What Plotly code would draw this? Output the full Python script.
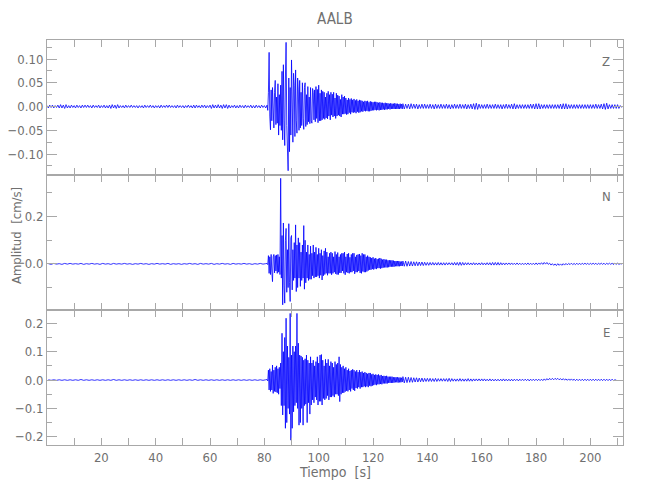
import numpy as np
import plotly.graph_objects as go
from plotly.subplots import make_subplots

# ---------------- data (amplitudes in 1e-3 cm/s) ----------------
station = "AALB"
components = ["Z", "N", "E"]
amp_unit = 1e-3

# each trace: pre-event noise, strong-motion part (fine sampling), coda
z_quiet_t0, z_quiet_dt = 0.0, 0.5
ne_quiet_t0, ne_quiet_dt = 0.5, 1.0
onset_t0, onset_dt = 81.0, 0.25
coda_t0, coda_dt = 131.0, 0.5

z_quiet = [2, -3, 3, -2, 3, -3, 2, -2, 3, -3,
           4, -3, 3, -4, 4, -3, 2, -3, 3, -2,
           2, -3, 3, -2, 2, -3, 3, -2, 3, -2,
           3, -2, 2, -3, 3, -2, 2, -2, 3, -3,
           2, -2, 3, -3, 2, -3, 3, -4, 4, -3,
           3, -4, 4, -3, 2, -2, 2, -3, 3, -2,
           2, -2, 3, -2, 2, -2, 2, -3, 2, -2,
           2, -3, 3, -2, 2, -2, 3, -2, 2, -3,
           2, -2, 2, -3, 3, -2, 2, -2, 3, -2,
           3, -2, 2, -2, 2, -3, 3, -2, 2, -2,
           2, -3, 2, -2, 3, -2, 2, -3, 3, -3,
           3, -2, 2, -3, 3, -2, 3, -3, 2, -2,
           3, -4, 4, -3, 3, -3, 4, -3, 3, -4,
           4, -3, 4, -4, 3, -3, 2, -2, 3, -3,
           2, -3, 3, -2, 2, -3, 3, -2, 2, -2,
           3, -3, 2, -3, 3, -2, 2, -3, 3, -2,
           2, -3]
z_onset = [3, -8, 30, 114, -20, -49, 35, -30,
           40, -25, -45, 30, 55, -38, 20, -35,
           48, -60, 25, -40, 45, -50, 74, -70,
           88, -30, -82, 60, 135, -40, -80, -135,
           60, -95, 40, -60, 98, -50, -75, 70,
           45, -63, 77, -30, -56, 60, 35, -50,
           55, -45, 30, -40, 50, -25, -48, 40,
           50, -42, 25, -38, 42, -32, 20, -36,
           40, -30, -35, 38, 30, -28, 35, -32,
           42, -25, 36, -34, 45, -30, 28, -30,
           35, -28, 32, -25, 30, -27, 20, -24,
           28, -26, 32, -20, 25, -28, 30, -18,
           26, -22, 30, -20, 18, -25, 28, -20,
           24, -18, 22, -20, 15, -22, 25, -16,
           20, -16, 22, -15, 18, -17, 14, -16,
           18, -13, 15, -16, 17, -12, 14, -13,
           16, -12, 13, -14, 15, -11, 12, -13,
           14, -12, 13, -10, 12, -11, 10, -9,
           12, -10, 11, -9, 12, -10, 9, -10,
           11, -9, 10, -8, 9, -8, 10, -7,
           10, -8, 9, -7, 8, -8, 9, -7,
           8, -7, 8, -6, 7, -7, 8, -6,
           7, -6, 7, -5, 6, -6, 7, -5,
           6, -5, 6, -5, 7, -5, 6, -5,
           6, -5, 5, -5, 6, -4, 5, -5]
z_coda = [6, -5, 5, -4, 5, -5, 6, -4, 5, -4,
          5, -5, 4, -4, 5, -4, 5, -4, 4, -4,
          5, -4, 4, -5, 5, -4, 4, -4, 5, -4,
          4, -4, 5, -4, 4, -5, 4, -4, 5, -4,
          4, -4, 5, -4, 4, -4, 5, -5, 4, -4,
          5, -5, 6, -6, 7, -6, 5, -4, 4, -4,
          4, -4, 5, -4, 4, -4, 4, -4, 5, -4,
          4, -4, 4, -5, 4, -4, 5, -4, 4, -4,
          5, -5, 6, -5, 4, -4, 4, -4, 4, -4,
          4, -4, 4, -4, 5, -4, 5, -5, 6, -5,
          6, -5, 4, -4, 4, -4, 4, -4, 4, -4,
          4, -4, 4, -4, 4, -4, 5, -5, 6, -5,
          6, -5, 4, -4, 4, -4, 4, -4, 4, -4,
          4, -4, 4, -4, 4, -4, 4, -4, 4, -4,
          4, -4, 5, -4, 4, -4, 5, -5, 6, -6,
          7, -5, 4, -4, 4, -4, 4, -4, 4, -4,
          2, -2]

n_quiet = [1, -2, 2, -1, 1, -2, 2, -1, 2, -1,
           1, -1, 2, -2, 1, -1, 2, -1, 1, -2,
           2, -1, 1, -2, 2, -1, 1, -1, 2, -1,
           1, -2, 1, -1, 2, -1, 1, -2, 1, -1,
           2, -1, 1, -1, 2, -2, 1, -1, 1, -2,
           1, -1, 2, -1, 1, -2, 2, -1, 1, -1,
           2, -2, 1, -1, 2, -1, 1, -2, 2, -1,
           1, -1, 2, -1, 1, -2, 1, -1, 2, -1,
           1]
n_onset = [2, -3, 35, -40, 30, -45, 40, -35,
           -75, 30, 40, -38, 35, -30, 38, -40,
           40, -35, 30, -45, 362, -60, 120, -173,
           173, -90, -166, 100, 150, -120, 60, -100,
           170, -80, -159, 110, 120, -110, 60, -70,
           90, -60, 165, -117, 80, -100, 110, -60,
           90, -95, 50, -70, 80, -60, 162, -107,
           100, -80, 50, -60, 80, -70, 40, -65,
           75, -65, 45, -50, 80, -60, 50, -55,
           70, -55, 40, -50, 66, -60, 45, -48,
           60, -68, 35, -50, 55, -45, 66, -40,
           50, -48, 30, -40, 45, -40, 50, -46,
           45, -40, 30, -35, 52, -42, 40, -45,
           48, -45, 30, -38, 40, -38, 45, -30,
           45, -40, 50, -46, 30, -35, 42, -38,
           45, -40, 28, -35, 40, -35, 45, -30,
           45, -42, 30, -35, 38, -35, 40, -30,
           42, -38, 35, -40, 45, -32, 40, -35,
           40, -35, 30, -32, 35, -28, 30, -25,
           28, -25, 25, -22, 28, -24, 22, -20,
           25, -22, 20, -18, 22, -18, 25, -20,
           22, -18, 18, -16, 20, -15, 18, -15,
           18, -15, 15, -14, 16, -12, 15, -12,
           15, -12, 14, -12, 12, -10, 12, -10,
           12, -10, 12, -10, 10, -9, 10, -9]
n_coda = [12, -10, 12, -10, 10, -9, 10, -9, 9, -8,
          9, -8, 8, -7, 8, -7, 7, -6, 6, -6,
          6, -5, 6, -5, 5, -5, 6, -5, 5, -5,
          5, -5, 5, -4, 5, -4, 5, -5, 6, -5,
          6, -6, 7, -6, 6, -5, 5, -4, 5, -4,
          4, -4, 5, -4, 4, -4, 4, -4, 5, -4,
          4, -4, 5, -4, 5, -5, 6, -5, 6, -5,
          6, -5, 5, -4, 4, -4, 4, -3, 4, -3,
          4, -3, 3, -3, 4, -3, 3, -3, 3, -3,
          3, -3, 4, -3, 3, -3, 3, -3, 4, -3,
          4, -2, 5, -2, 6, -1, 6, -2, 3, -5,
          1, -6, 0, -7, 1, -6, 0, -6, 1, -5,
          2, -4, 2, -3, 3, -3, 2, -3, 3, -3,
          3, -3, 3, -2, 3, -2, 3, -3, 3, -2,
          3, -2, 3, -3, 3, -2, 3, -2, 3, -3,
          3, -2, 3, -2, 3, -3, 3, -2, 3, -2,
          1, -1]

e_quiet = [1, -1, 1, -1, 1, -1, 1, -1, 1, -1,
           1, -1, 2, -1, 1, -1, 1, -1, 1, -1,
           1, -1, 1, -1, 2, -1, 1, -1, 1, -1,
           1, -1, 1, -1, 1, -1, 1, -1, 1, -1,
           1, -1, 1, -1, 1, -1, 1, -1, 1, -1,
           1, -1, 1, -1, 2, -1, 1, -1, 1, -1,
           1, -1, 1, -1, 1, -1, 1, -1, 1, -1,
           1, -1, 1, -1, 1, -1, 1, -1, 1, -1,
           1]
e_onset = [2, -3, 35, -35, 40, -40, 30, -35,
           53, -47, 35, -40, 45, -42, 50, -45,
           40, -50, 45, -30, 60, -90, 165, -123,
           100, -90, 150, -170, 218, -150, 120, -100,
           80, -120, 235, -212, 88, -170, 120, -112,
           100, -90, 120, -80, 235, -100, 130, -159,
           88, -150, 85, -100, 80, -159, 70, -90,
           75, -85, 88, -150, 70, -80, 60, -120,
           82, -88, 60, -70, 70, -80, 50, -60,
           65, -70, 82, -88, 60, -75, 88, -75,
           90, -88, 70, -65, 50, -70, 73, -65,
           60, -55, 73, -70, 50, -60, 65, -60,
           60, -55, 45, -60, 65, -50, 55, -50,
           60, -55, 82, -76, 55, -50, 45, -45,
           50, -45, 40, -41, 45, -38, 35, -40,
           40, -35, 32, -40, 35, -30, 38, -35,
           35, -38, 30, -28, 35, -30, 28, -25,
           35, -30, 28, -25, 30, -25, 25, -22,
           28, -25, 25, -22, 22, -25, 25, -20,
           25, -22, 20, -20, 22, -18, 18, -16,
           20, -18, 18, -15, 20, -15, 16, -14,
           18, -15, 14, -12, 15, -12, 14, -12,
           15, -12, 12, -10, 12, -10, 12, -10,
           12, -10, 10, -9, 10, -8, 10, -8,
           10, -9, 9, -8, 9, -8, 8, -7]
e_coda = [12, -10, 10, -9, 10, -8, 9, -8, 8, -7,
          8, -7, 7, -6, 7, -6, 6, -5, 6, -5,
          6, -5, 5, -5, 6, -5, 5, -4, 5, -4,
          5, -4, 5, -5, 6, -5, 5, -4, 4, -4,
          4, -4, 5, -4, 4, -4, 4, -4, 5, -4,
          4, -4, 4, -3, 4, -3, 4, -3, 4, -3,
          4, -3, 3, -3, 4, -3, 3, -3, 3, -3,
          3, -3, 3, -3, 4, -3, 3, -3, 3, -3,
          3, -3, 3, -2, 3, -3, 3, -2, 3, -2,
          3, -2, 3, -3, 3, -2, 3, -2, 3, -2,
          3, -2, 3, -2, 4, -1, 5, 0, 6, 1,
          6, 1, 6, 2, 6, 1, 5, 0, 5, 0,
          4, -1, 4, -1, 4, -1, 3, -2, 3, -2,
          3, -2, 3, -2, 3, -2, 3, -2, 3, -2,
          3, -2, 3, -2, 3, -2, 3, -2, 3, -2,
          3, -2, 3, -2, 3, -2, 1, 0]

x_range = [0, 212]
x_ticks = [20, 40, 60, 80, 100, 120, 140, 160, 180, 200]
y_ranges = [[-0.144, 0.140], [-0.195, 0.376], [-0.229, 0.247]]
y_dticks = [0.05, 0.2, 0.1]
y_minor = [0.025, 0.1, 0.05]
y_formats = [".2f", ".1f", ".1f"]

# ---------------- figure ----------------
def series(segments):
    ts, vs = [], []
    for t0, dt, vals in segments:
        ts.append(t0 + dt * np.arange(len(vals)))
        vs.append(np.array(vals, dtype=float))
    return np.concatenate(ts), np.concatenate(vs) * amp_unit

traces = [
    series([(z_quiet_t0, z_quiet_dt, z_quiet), (onset_t0, onset_dt, z_onset), (coda_t0, coda_dt, z_coda)]),
    series([(ne_quiet_t0, ne_quiet_dt, n_quiet), (onset_t0, onset_dt, n_onset), (coda_t0, coda_dt, n_coda)]),
    series([(ne_quiet_t0, ne_quiet_dt, e_quiet), (onset_t0, onset_dt, e_onset), (coda_t0, coda_dt, e_coda)]),
]

fig = make_subplots(rows=3, cols=1, shared_xaxes=True, vertical_spacing=0)

FONT = "Liberation Sans Narrow, DejaVu Sans Condensed, Roboto, sans-serif"
TXT = "#707070"
AX = "#a8a8a8"

for i, (t, v) in enumerate(traces):
    fig.add_trace(go.Scatter(x=t, y=v, mode="lines",
                             line=dict(color="#0000ff", width=0.8),
                             showlegend=False, hoverinfo="skip"),
                  row=i + 1, col=1)
    fig.update_yaxes(range=y_ranges[i], dtick=y_dticks[i], tick0=0,
                     tickformat=y_formats[i], automargin=False,
                     showline=True, linecolor=AX, linewidth=1, mirror="ticks",
                     ticks="inside", ticklen=10, tickcolor=AX, tickwidth=1,
                     showgrid=False, zeroline=False,
                     tickfont=dict(family=FONT, size=13, color=TXT),
                     minor=dict(ticks="inside", dtick=y_minor[i], tick0=0,
                                ticklen=5, tickcolor=AX, showgrid=False),
                     row=i + 1, col=1)
    fig.update_xaxes(range=x_range, tickvals=x_ticks, automargin=False,
                     showline=True, linecolor=AX, linewidth=1, mirror="ticks",
                     ticks="inside", ticklen=7, tickcolor=AX, tickwidth=1,
                     showgrid=False, zeroline=False,
                     tickfont=dict(family=FONT, size=13, color=TXT),
                     minor=dict(ticks="inside", dtick=10, tick0=0,
                                ticklen=7, tickcolor=AX, showgrid=False),
                     row=i + 1, col=1)

fig.update_xaxes(showticklabels=True, row=3, col=1)

annotations = [
    dict(text=station, x=0.5, y=1.0778, yanchor="top", font=dict(size=15)),
    dict(text="Tiempo  [s]", x=0.5, y=-0.0667, yanchor="middle", font=dict(size=14)),
    dict(text="Amplitud  [cm/s]", x=-0.0538, y=0.516, yanchor="middle", textangle=-90, font=dict(size=13)),
]
label_y = [0.9457, 0.6148, 0.279]
for c, yy in zip(components, label_y):
    annotations.append(dict(text=c, x=0.9705, y=yy, yanchor="middle", font=dict(size=13)))

for a in annotations:
    a.update(xref="paper", yref="paper", showarrow=False, xanchor="center")
    a["font"].update(family=FONT, color=TXT)

# page body adds an 8 px offset; figure sized so the page does not overflow
fig.update_layout(
    width=634, height=484,
    margin=dict(l=39, r=19, t=32, b=47),
    paper_bgcolor="white", plot_bgcolor="white",
    annotations=annotations,
    showlegend=False,
)

fig.write_html("out.html")
